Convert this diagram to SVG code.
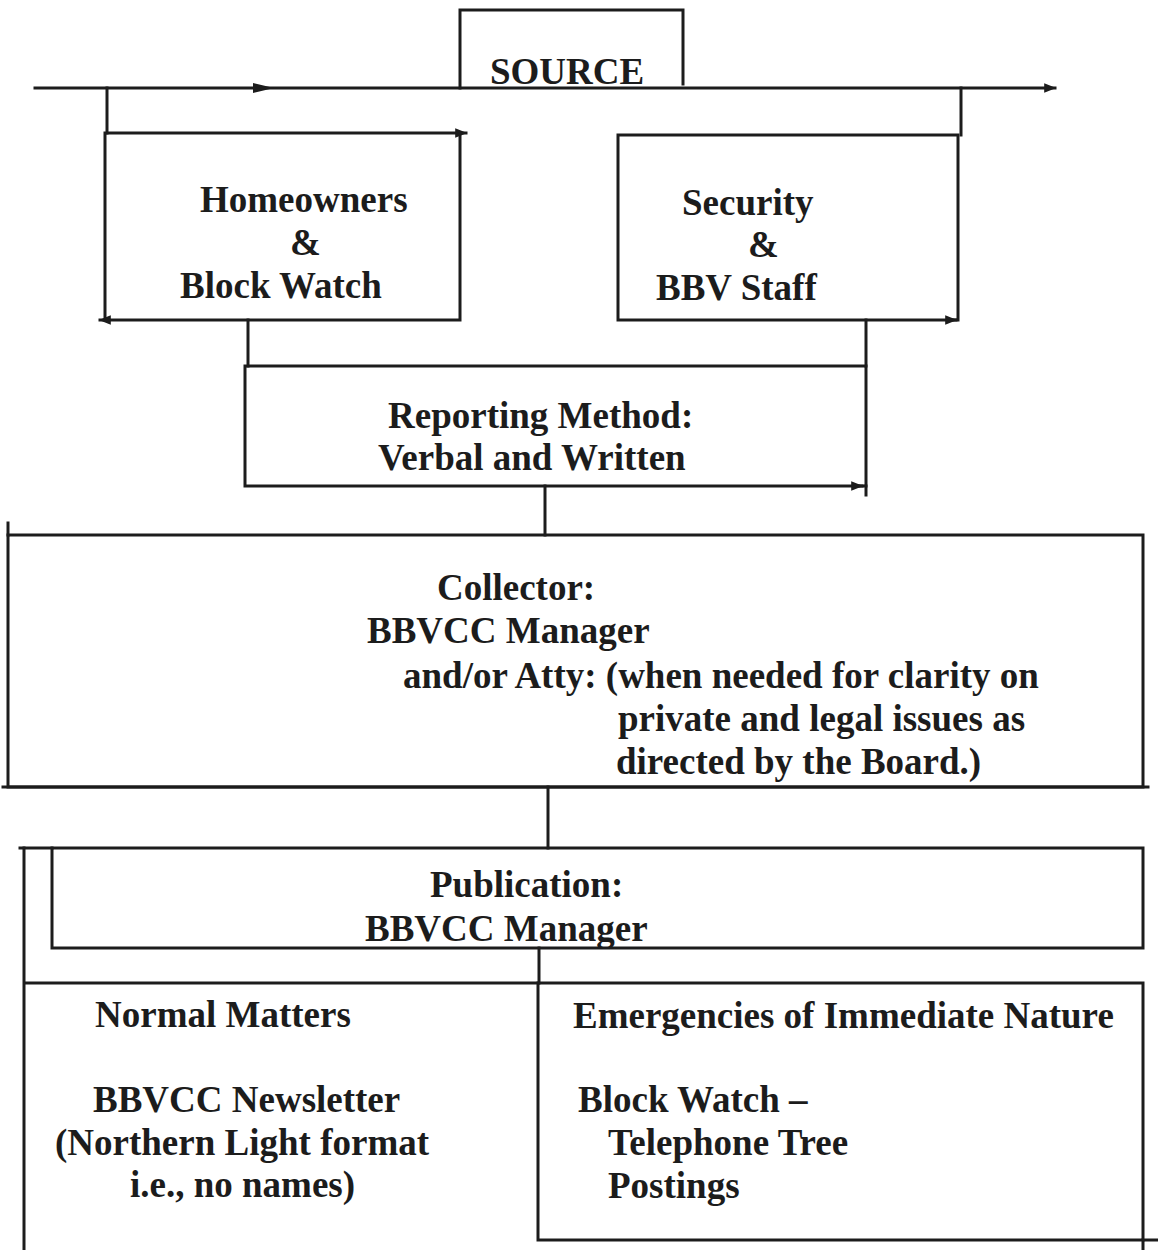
<svg xmlns="http://www.w3.org/2000/svg" width="1158" height="1250" viewBox="0 0 1158 1250">
  <style>
    .ln { fill: none; stroke: #1c1c1c; stroke-width: 3; stroke-linecap: square; }
    .box { fill: none; stroke: #1c1c1c; stroke-width: 3; }
    .t { font-family: "Liberation Serif", "Times New Roman", serif; font-weight: bold; font-size: 37px; fill: #1c1c1c; }
    .ah { fill: #1c1c1c; }
  </style>
  <defs>
    <marker id="arr" viewBox="0 0 10 10" refX="9" refY="5" markerWidth="5" markerHeight="4" orient="auto" markerUnits="strokeWidth">
      <path d="M0,1 L10,5 L0,9 z" class="ah"/>
    </marker>
  </defs>
  <rect width="1158" height="1250" fill="#ffffff"/>

  <g id="connectors">
    <path class="ln" d="M35,88 H1055" marker-end="url(#arr)"/>
    <path class="ah" d="M253,83 L274,88 L253,93 z"/>
    <path class="ln" d="M107,88 V133"/>
    <path class="ln" d="M961,88 V135"/>
    <path class="ln" d="M248,320 V366"/>
    <path class="ln" d="M866,320 V366"/>
    <path class="ln" d="M866,486 V495"/>
    <path class="ln" d="M545,486 V535"/>
    <path class="ln" d="M548,787 V848"/>
    <path class="ln" d="M539,948 V983"/>
  </g>

  <g id="source">
    <path class="ln" d="M460,88 V10 H683 V84"/>
    <text class="t" x="490" y="84">SOURCE</text>
  </g>

  <g id="homeowners">
    <rect class="box" x="105" y="133" width="355" height="187"/>
    <path class="ln" d="M460,133 H466" marker-end="url(#arr)"/>
    <path class="ln" d="M105,320 H100" marker-end="url(#arr)"/>
    <text class="t" x="200" y="212">Homeowners</text>
    <text class="t" x="290" y="255">&amp;</text>
    <text class="t" x="180" y="298">Block Watch</text>
  </g>

  <g id="security">
    <rect class="box" x="618" y="135" width="340" height="185"/>
    <path class="ln" d="M950,320 H956" marker-end="url(#arr)"/>
    <text class="t" x="682" y="215">Security</text>
    <text class="t" x="748" y="257">&amp;</text>
    <text class="t" x="656" y="300">BBV Staff</text>
  </g>

  <g id="reporting">
    <rect class="box" x="245" y="366" width="621" height="120"/>
    <path class="ln" d="M855,486 H862" marker-end="url(#arr)"/>
    <text class="t" x="388" y="428">Reporting Method:</text>
    <text class="t" x="378" y="470">Verbal and Written</text>
  </g>

  <g id="collector">
    <rect class="box" x="8" y="535" width="1135" height="252"/>
    <path class="ln" d="M8,523 V535"/>
    <path class="ln" d="M3,787 H1148"/>
    <text class="t" x="437" y="600">Collector:</text>
    <text class="t" x="367" y="643">BBVCC Manager</text>
    <text class="t" x="403" y="688">and/or Atty: (when needed for clarity on</text>
    <text class="t" x="618" y="731">private and legal issues as</text>
    <text class="t" x="616" y="774">directed by the Board.)</text>
  </g>

  <g id="publication">
    <rect class="box" x="52" y="848" width="1091" height="100"/>
    <path class="ln" d="M20,848 H52"/>
    <text class="t" x="430" y="897">Publication:</text>
    <text class="t" x="365" y="941">BBVCC Manager</text>
  </g>

  <g id="normal">
    <path class="ln" d="M538,983 H24 M24,848 V1250"/>
    <text class="t" x="95" y="1027">Normal Matters</text>
    <text class="t" x="93" y="1112">BBVCC Newsletter</text>
    <text class="t" x="55" y="1155">(Northern Light format</text>
    <text class="t" x="130" y="1197">i.e., no names)</text>
  </g>

  <g id="emergencies">
    <rect class="box" x="538" y="983" width="605" height="257"/>
    <path class="ln" d="M1143,1240 V1250 M1143,1240 H1158"/>
    <text class="t" x="573" y="1028">Emergencies of Immediate Nature</text>
    <text class="t" x="578" y="1112">Block Watch –</text>
    <text class="t" x="608" y="1155">Telephone Tree</text>
    <text class="t" x="608" y="1198">Postings</text>
  </g>
</svg>
